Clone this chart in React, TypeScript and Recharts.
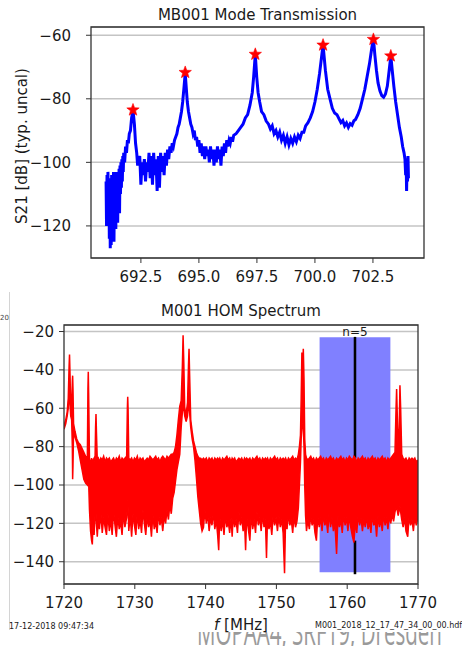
import React from 'react';
import {
  ComposedChart, Line, Scatter, Area,
  XAxis, YAxis, CartesianGrid, ReferenceArea,
} from 'recharts';

// MB001 mode transmission trace: [f MHz, S21 dB]
const modeTrace: [number, number][] = [
  [691.00, -106], [691.02, -120], [691.04, -104], [691.06, -118], [691.08, -103],
  [691.10, -116], [691.12, -105], [691.14, -124], [691.16, -108], [691.18, -127],
  [691.20, -106], [691.22, -126], [691.24, -104], [691.26, -122], [691.28, -105],
  [691.30, -119], [691.32, -103], [691.34, -125], [691.36, -106], [691.38, -117],
  [691.40, -104], [691.42, -121], [691.44, -103], [691.46, -114], [691.48, -105],
  [691.50, -119], [691.52, -103], [691.54, -112], [691.56, -102], [691.58, -116],
  [691.60, -101], [691.62, -110], [691.64, -100], [691.66, -108], [691.68, -99],
  [691.70, -106], [691.72, -98], [691.74, -103], [691.76, -97], [691.80, -100],
  [691.84, -95], [691.88, -97], [691.92, -93], [691.96, -94], [692.00, -91],
  [692.05, -90], [692.10, -86], [692.16, -83.5], [692.22, -88], [692.27, -94],
  [692.32, -97], [692.36, -101], [692.40, -99], [692.45, -98], [692.50, -107],
  [692.55, -100], [692.60, -104], [692.65, -99], [692.70, -106], [692.75, -100],
  [692.80, -103], [692.85, -97], [692.90, -105], [692.95, -98], [693.00, -107],
  [693.05, -97], [693.10, -104], [693.15, -99], [693.20, -109], [693.25, -98],
  [693.30, -108], [693.35, -97], [693.40, -103], [693.45, -98], [693.50, -104],
  [693.55, -97], [693.60, -101], [693.65, -96], [693.70, -99], [693.75, -95],
  [693.80, -97], [693.85, -94], [693.90, -95], [693.95, -93], [694.00, -92],
  [694.05, -91], [694.10, -89], [694.15, -88], [694.20, -86], [694.25, -84],
  [694.30, -81], [694.35, -77], [694.41, -72], [694.46, -77], [694.50, -81],
  [694.55, -84], [694.60, -86], [694.65, -88], [694.70, -89], [694.75, -91],
  [694.80, -90], [694.85, -93], [694.90, -92], [694.95, -95], [695.00, -93],
  [695.05, -97], [695.10, -94], [695.15, -98], [695.20, -95], [695.25, -99],
  [695.30, -95], [695.35, -98], [695.40, -96], [695.45, -100], [695.50, -95],
  [695.55, -99], [695.60, -96], [695.65, -101], [695.70, -96], [695.75, -100],
  [695.80, -95], [695.85, -99], [695.90, -96], [695.95, -101], [696.00, -95],
  [696.05, -98], [696.10, -94], [696.15, -97], [696.20, -93], [696.25, -95],
  [696.30, -93], [696.35, -94], [696.40, -92], [696.45, -93.5], [696.50, -91.5],
  [696.60, -91], [696.70, -90], [696.80, -89], [696.90, -88], [697.00, -86],
  [697.10, -85], [697.20, -82], [697.30, -78], [697.36, -73], [697.43, -66],
  [697.49, -73], [697.55, -78], [697.62, -81], [697.70, -84], [697.80, -85],
  [697.90, -87], [698.00, -88], [698.08, -89.5], [698.16, -88.5], [698.24, -91],
  [698.32, -90], [698.40, -92], [698.48, -90.5], [698.56, -93], [698.64, -91.5],
  [698.72, -94], [698.80, -92], [698.88, -94.5], [698.96, -92.5], [699.04, -94],
  [699.12, -92], [699.20, -93.5], [699.28, -91.5], [699.36, -92.5], [699.44, -90.5],
  [699.52, -90.5], [699.60, -88.5], [699.70, -87.5], [699.80, -86], [699.90, -84],
  [700.00, -81], [700.10, -77], [700.20, -72], [700.35, -63], [700.45, -71],
  [700.55, -77], [700.65, -80], [700.75, -83], [700.85, -84.5], [700.95, -85],
  [701.05, -86.5], [701.12, -87.5], [701.20, -86.8], [701.28, -88.5], [701.36, -87.6],
  [701.44, -89], [701.52, -87.8], [701.60, -88.3], [701.68, -86.9], [701.75, -86.5],
  [701.85, -85], [701.95, -83], [702.05, -80], [702.15, -77], [702.25, -73],
  [702.35, -69], [702.45, -64], [702.52, -61], [702.58, -66], [702.65, -71],
  [702.72, -75], [702.80, -77.5], [702.88, -79], [702.96, -79.5], [703.04, -78.5],
  [703.12, -76], [703.20, -71], [703.27, -66.5], [703.33, -71], [703.40, -76],
  [703.48, -81], [703.56, -85], [703.64, -89], [703.72, -92], [703.78, -95],
  [703.84, -97], [703.88, -99], [703.91, -104], [703.93, -99], [703.95, -109],
  [703.97, -100], [703.99, -106], [704.01, -98], [704.03, -105],
];

// fitted mode peaks (red stars)
const modePeaks: [number, number][] = [
  [692.16, -83.5], [694.41, -71.7], [697.43, -66], [700.35, -63.1], [702.52, -61.3], [703.27, -66.5],
];
const modeDomainX = [690.35, 704.7];
const modeDomainY = [-130.1, -57.4];
const modeTicksX = [692.5, 695, 697.5, 700, 702.5];
const modeTicksY = [-120, -100, -80, -60];

// M001 HOM spectrum: [f MHz, floor dB, top dB]
const homTrace: [number, number, number][] = [
  [1720.0, -71, -69], [1720.25, -68, -66], [1720.45, -64, -62], [1720.6, -60, -55],
  [1720.72, -52, -38], [1720.78, -48, -32], [1720.85, -58, -42], [1720.95, -64, -60],
  [1721.08, -66, -58], [1721.18, -80, -46], [1721.22, -97, -43], [1721.27, -90, -50],
  [1721.35, -72, -68], [1721.55, -75, -72], [1721.8, -78, -76], [1722.05, -82, -78],
  [1722.3, -87, -79], [1722.55, -92, -81], [1722.8, -97, -83], [1723.05, -99, -85],
  [1723.3, -100, -86], [1723.38, -96, -50], [1723.43, -92, -41], [1723.48, -98, -52],
  [1723.6, -113, -87], [1723.75, -124, -88], [1723.9, -129, -86], [1724.0, -131, -88],
  [1724.12, -118, -87], [1724.25, -126, -86], [1724.38, -116, -88], [1724.46, -112, -70],
  [1724.52, -115, -63], [1724.58, -120, -72], [1724.7, -127, -87], [1724.85, -117, -86],
  [1725.0, -123, -88], [1725.2, -114, -86], [1725.4, -125, -87], [1725.6, -117, -85],
  [1725.8, -122, -88], [1726.0, -126, -86], [1726.2, -115, -87], [1726.4, -124, -86],
  [1726.6, -118, -88], [1726.8, -126, -87], [1727.0, -113, -86], [1727.2, -121, -88],
  [1727.4, -127, -86], [1727.6, -116, -87], [1727.8, -123, -85], [1728.0, -119, -88],
  [1728.2, -126, -86], [1728.4, -114, -87], [1728.6, -122, -86], [1728.85, -117, -85],
  [1728.95, -110, -60], [1729.0, -108, -54], [1729.05, -112, -60], [1729.15, -124, -86],
  [1729.35, -116, -87], [1729.55, -127, -86], [1729.75, -115, -88], [1729.95, -121, -86],
  [1730.15, -126, -87], [1730.35, -114, -85], [1730.55, -123, -88], [1730.75, -118, -86],
  [1730.95, -125, -87], [1731.15, -113, -86], [1731.35, -120, -88], [1731.55, -126, -87],
  [1731.75, -116, -86], [1731.95, -122, -87], [1732.15, -118, -85], [1732.35, -127, -86],
  [1732.55, -115, -87], [1732.75, -123, -86], [1732.95, -119, -85], [1733.15, -125, -87],
  [1733.35, -114, -86], [1733.55, -121, -88], [1733.75, -117, -86], [1733.95, -124, -85],
  [1734.15, -116, -86], [1734.35, -120, -87], [1734.55, -113, -85], [1734.75, -118, -86],
  [1734.95, -110, -85], [1735.15, -115, -84], [1735.35, -107, -84], [1735.55, -104, -83],
  [1735.75, -98, -80], [1735.95, -92, -74], [1736.15, -88, -66], [1736.35, -84, -59],
  [1736.55, -70, -56], [1736.72, -62, -38], [1736.82, -58, -22], [1736.92, -60, -36],
  [1737.05, -64, -60], [1737.25, -67, -63], [1737.45, -64, -57], [1737.58, -58, -38],
  [1737.66, -56, -29], [1737.74, -62, -42], [1737.9, -70, -66], [1738.1, -76, -72],
  [1738.3, -80, -77], [1738.5, -87, -80], [1738.7, -96, -83], [1738.9, -106, -85],
  [1739.1, -113, -86], [1739.3, -120, -86], [1739.5, -124, -87], [1739.7, -122, -86],
  [1739.9, -113, -87], [1740.1, -120, -86], [1740.3, -115, -88], [1740.5, -124, -86],
  [1740.7, -117, -87], [1740.9, -121, -86], [1741.1, -114, -88], [1741.3, -123, -86],
  [1741.5, -118, -87], [1741.7, -126, -86], [1741.85, -134, -87], [1742.0, -116, -86],
  [1742.2, -124, -88], [1742.4, -118, -86], [1742.6, -126, -87], [1742.8, -115, -86],
  [1743.0, -122, -85], [1743.2, -119, -87], [1743.4, -125, -86], [1743.6, -117, -88],
  [1743.75, -127, -86], [1743.9, -115, -87], [1744.1, -122, -86], [1744.3, -118, -88],
  [1744.5, -125, -87], [1744.7, -114, -86], [1744.9, -121, -87], [1745.1, -117, -86],
  [1745.3, -124, -88], [1745.5, -119, -86], [1745.65, -134, -87], [1745.8, -116, -86],
  [1746.0, -122, -87], [1746.25, -129, -86], [1746.45, -115, -88], [1746.65, -123, -86],
  [1746.85, -118, -87], [1747.05, -125, -86], [1747.25, -114, -85], [1747.45, -121, -87],
  [1747.65, -117, -86], [1747.85, -124, -88], [1748.05, -115, -86], [1748.25, -122, -87],
  [1748.45, -118, -86], [1748.6, -138, -87], [1748.75, -116, -86], [1748.95, -123, -88],
  [1749.15, -119, -86], [1749.35, -126, -87], [1749.55, -115, -86], [1749.75, -121, -85],
  [1749.95, -117, -87], [1750.15, -124, -86], [1750.35, -116, -88], [1750.55, -122, -86],
  [1750.75, -118, -87], [1750.95, -125, -86], [1751.15, -146, -87], [1751.3, -117, -86],
  [1751.5, -123, -88], [1751.7, -115, -86], [1751.9, -121, -87], [1752.1, -118, -86],
  [1752.3, -125, -85], [1752.5, -116, -87], [1752.7, -122, -86], [1752.9, -119, -87],
  [1753.1, -112, -84], [1753.25, -100, -80], [1753.4, -88, -74], [1753.5, -76, -55],
  [1753.6, -70, -31], [1753.7, -68, -42], [1753.8, -70, -29], [1753.9, -80, -45],
  [1754.0, -100, -76], [1754.12, -116, -84], [1754.25, -124, -86], [1754.45, -118, -87],
  [1754.65, -123, -86], [1754.85, -116, -85], [1755.05, -121, -87], [1755.25, -118, -86],
  [1755.45, -125, -88], [1755.65, -129, -86], [1755.85, -116, -87], [1756.05, -122, -86],
  [1756.25, -117, -85], [1756.45, -124, -87], [1756.65, -115, -86], [1756.85, -121, -88],
  [1757.05, -118, -86], [1757.25, -125, -87], [1757.45, -114, -86], [1757.65, -122, -85],
  [1757.85, -117, -87], [1758.05, -124, -86], [1758.25, -119, -88], [1758.5, -136, -86],
  [1758.7, -116, -87], [1758.9, -122, -86], [1759.1, -118, -85], [1759.3, -125, -87],
  [1759.5, -115, -86], [1759.7, -121, -88], [1759.9, -117, -86], [1760.1, -124, -87],
  [1760.3, -116, -85], [1760.5, -122, -86], [1760.75, -127, -87], [1760.95, -130, -85],
  [1761.15, -119, -86], [1761.35, -125, -88], [1761.55, -115, -86], [1761.75, -121, -87],
  [1761.95, -117, -86], [1762.15, -124, -85], [1762.35, -118, -87], [1762.55, -122, -86],
  [1762.75, -116, -88], [1762.95, -123, -86], [1763.15, -119, -87], [1763.35, -125, -86],
  [1763.55, -115, -85], [1763.75, -121, -87], [1763.95, -118, -86], [1764.15, -127, -88],
  [1764.35, -116, -86], [1764.55, -122, -87], [1764.75, -118, -86], [1764.95, -124, -85],
  [1765.15, -115, -87], [1765.35, -121, -86], [1765.55, -117, -88], [1765.75, -123, -86],
  [1765.95, -116, -87], [1766.15, -120, -86], [1766.35, -115, -85], [1766.55, -119, -84],
  [1766.75, -114, -83], [1766.9, -112, -60], [1766.98, -110, -50], [1767.06, -113, -62],
  [1767.2, -116, -82], [1767.35, -113, -70], [1767.45, -111, -48], [1767.55, -114, -60],
  [1767.7, -118, -84], [1767.9, -122, -86], [1768.1, -117, -87], [1768.3, -124, -86],
  [1768.55, -127, -88], [1768.75, -116, -86], [1768.95, -121, -87], [1769.15, -118, -86],
  [1769.35, -124, -87], [1769.55, -116, -86], [1769.75, -121, -88], [1770.0, -117, -87],
];
const homDomainX = [1720, 1770];
const homDomainY = [-151.6, -16.6];
const homTicksX = [1720, 1730, 1740, 1750, 1760, 1770];
const homTicksY = [-140, -120, -100, -80, -60, -40, -20];
// n=5 passband window and centre marker (visible above and below the noise floor)
const homBandF = [1756.1, 1766.1];
const homBandDb = [-145.5, -23];
const homMarkF = [1760.92, 1761.28];
const homMarkUpperDb = [-86, -22.8];
const homMarkLowerDb = [-146.5, -129];

const modeData = modeTrace.map(([f, s21]) => ({ f, s21 }));
const peakData = modePeaks.map(([f, s21]) => ({ f, s21 }));
const homData = homTrace.map(([f, lo, hi]) => ({ f, band: [lo, hi] }));

const font = '"DejaVu Sans", sans-serif';
const minus = (v: number) => String(v).replace('-', '\u2212');
const tickStyle = { fontSize: 15, fill: '#1a1a1a', fontFamily: font };

const Star = (props: any) => {
  const { cx, cy } = props;
  if (cx == null || cy == null) return null;
  const pts: string[] = [];
  for (let i = 0; i < 10; i++) {
    const r = i % 2 === 0 ? 6.5 : 2.7;
    const a = -Math.PI / 2 + (i * Math.PI) / 5;
    pts.push(`${cx + r * Math.cos(a)},${cy + r * Math.sin(a)}`);
  }
  return <polygon points={pts.join(' ')} fill="#ff0000" stroke="#ff0000" strokeWidth={0.6} />;
};

const abs = (s: React.CSSProperties): React.CSSProperties => ({ position: 'absolute', ...s });

export default function App() {
  return (
    <div style={abs({ left: 0, top: 0, width: 462, height: 646, background: '#fff', overflow: 'hidden', fontFamily: font, color: '#1a1a1a' })}>
      {/* top: mode transmission */}
      <div style={abs({ left: 0, top: 0 })}>
        <ComposedChart width={462} height={290} data={modeData} margin={{ top: 27, right: 38, bottom: 0, left: 0 }}>
          <CartesianGrid vertical={false} stroke="#c4c4c4" strokeWidth={1.5} />
          <XAxis dataKey="f" type="number" domain={modeDomainX} ticks={modeTicksX} allowDataOverflow
            tickFormatter={(v: number) => v.toFixed(1)} tick={tickStyle} height={32}
            axisLine={false} tickLine={{ stroke: '#333' }} tickSize={5} tickMargin={8} />
          <YAxis type="number" domain={modeDomainY} ticks={modeTicksY} allowDataOverflow
            tickFormatter={minus} tick={tickStyle} width={91}
            axisLine={false} tickLine={{ stroke: '#333' }} tickSize={5} tickMargin={15} />
          <Line dataKey="s21" type="linear" stroke="#0000ff" strokeWidth={3} dot={false} isAnimationActive={false} />
          <Scatter data={peakData} dataKey="s21" shape={Star} isAnimationActive={false} />
          <ReferenceArea x1={modeDomainX[0]} x2={modeDomainX[1]} y1={modeDomainY[0]} y2={modeDomainY[1]}
            fill="none" stroke="#333" strokeWidth={1.3} ifOverflow="visible" />
        </ComposedChart>
      </div>
      <div style={abs({ left: 91, top: 6, width: 333, textAlign: 'center', fontSize: 15, lineHeight: '18px' })}>
        MB001 Mode Transmission
      </div>
      <div style={abs({ left: 21.7 - 110, top: 146 - 9, width: 220, height: 18, textAlign: 'center', fontSize: 15, lineHeight: '18px', transform: 'rotate(-90deg)', whiteSpace: 'nowrap' })}>
        S21 [dB] (typ. uncal)
      </div>

      {/* bottom: HOM spectrum */}
      <div style={abs({ left: 9, top: 292, width: 1, height: 338, background: '#d4d4d4' })} />
      <div style={abs({ left: 0, top: 314, fontSize: 7, lineHeight: '9px', color: '#444' })}>20</div>
      <div style={abs({ left: 197, top: 632, width: 265, height: 14, overflow: 'hidden' })}>
        <div style={abs({ left: 0, top: -21, fontFamily: '"Open Sans", sans-serif', fontSize: 36, lineHeight: '42px', color: '#9a9a9a', whiteSpace: 'nowrap', transform: 'scaleX(0.57)', transformOrigin: 'left top' })}>
          MOPAA4, SRF19, Dresden
        </div>
      </div>
      <div style={abs({ left: 0, top: 290 })}>
        <ComposedChart width={462} height={356} data={homData} margin={{ top: 35, right: 44, bottom: 0, left: 0 }}>
          <CartesianGrid vertical={false} stroke="#c4c4c4" strokeWidth={1.5} />
          <XAxis dataKey="f" type="number" domain={homDomainX} ticks={homTicksX} allowDataOverflow
            tick={tickStyle} height={62} axisLine={false} tickLine={{ stroke: '#333' }} tickSize={5} tickMargin={8} />
          <YAxis type="number" domain={homDomainY} ticks={homTicksY} allowDataOverflow
            tickFormatter={minus} tick={tickStyle} width={64}
            axisLine={false} tickLine={{ stroke: '#333' }} tickSize={5} tickMargin={5} />
          <ReferenceArea x1={homBandF[0]} x2={homBandF[1]} y1={homBandDb[0]} y2={homBandDb[1]}
            fill="#8080ff" fillOpacity={1} stroke="none" />
          <ReferenceArea x1={homMarkF[0]} x2={homMarkF[1]} y1={homMarkUpperDb[0]} y2={homMarkUpperDb[1]}
            fill="#000" fillOpacity={1} stroke="none"
            label={{ value: 'n=5', position: 'top', offset: 1, fill: '#1a1a1a', fontSize: 12, fontFamily: font }} />
          <ReferenceArea x1={homMarkF[0]} x2={homMarkF[1]} y1={homMarkLowerDb[0]} y2={homMarkLowerDb[1]}
            fill="#000" fillOpacity={1} stroke="none" />
          <Area dataKey="band" type="linear" stroke="#ff0000" strokeWidth={1.5} fill="#ff0000" fillOpacity={1}
            isAnimationActive={false} />
          <ReferenceArea x1={homDomainX[0]} x2={homDomainX[1]} y1={homDomainY[0]} y2={homDomainY[1]}
            fill="none" stroke="#333" strokeWidth={1.3} ifOverflow="visible" />
        </ComposedChart>
      </div>
      <div style={abs({ left: 64, top: 302, width: 354, textAlign: 'center', fontSize: 15, lineHeight: '18px' })}>
        M001 HOM Spectrum
      </div>
      <div style={abs({ left: 64, top: 616, width: 354, textAlign: 'center', fontSize: 15, lineHeight: '18px' })}>
        <i>f</i> [MHz]
      </div>
      <div style={abs({ left: 9, top: 622, fontSize: 8, lineHeight: '10px', whiteSpace: 'nowrap' })}>
        17-12-2018 09:47:34
      </div>
      <div style={abs({ left: 315, top: 621, fontSize: 8, lineHeight: '10px', whiteSpace: 'nowrap' })}>
        M001_2018_12_17_47_34_00_00.hdf5
      </div>
    </div>
  );
}
